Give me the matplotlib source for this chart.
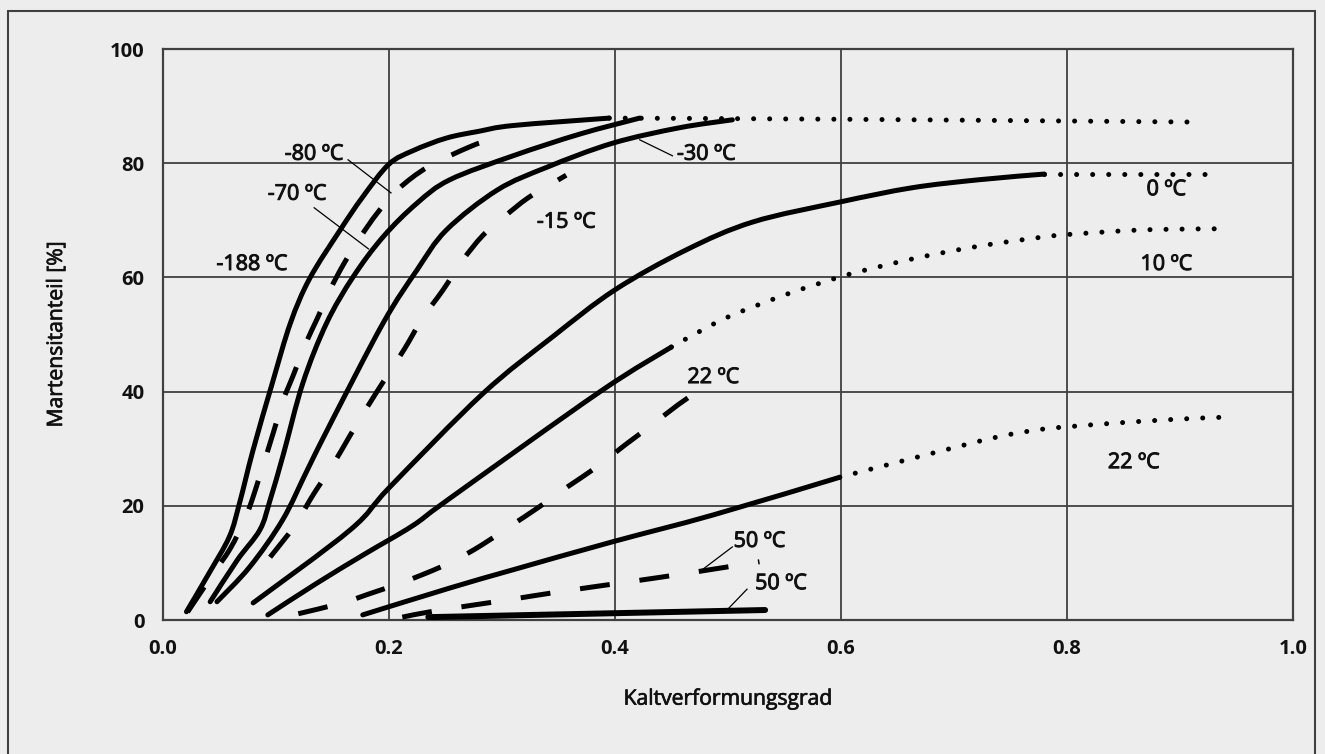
import numpy as np
import matplotlib
matplotlib.use("Agg")
import matplotlib.pyplot as plt
import matplotlib.patheffects as pe
from matplotlib.patches import Rectangle, PathPatch
from matplotlib.path import Path

plt.rcParams['font.family'] = ['Open Sans', 'DejaVu Sans']

BG = '#ededed'
GRID = '#404040'
INK = '#111111'

# Martensite fraction (%) over degree of cold work, per deformation temperature
# -188 °C (solid) and its dotted plateau
x_m188 = [0.021, 0.041, 0.059, 0.068, 0.080, 0.097, 0.113, 0.130, 0.157, 0.177, 0.200, 0.2215, 0.251, 0.280, 0.310, 0.395]
y_m188 = [1.45, 8.2, 14.6, 20.5, 29.8, 41.5, 52.0, 59.8, 68.3, 74.1, 79.8, 82.2, 84.4, 85.6, 86.6, 87.9]
x_m188_dot = [0.395, 0.60, 0.917]
y_m188_dot = [87.9, 87.7, 87.2]

# -80 °C (dashed)
x_m80 = [0.022, 0.045, 0.060, 0.073, 0.082, 0.098, 0.106, 0.116, 0.126, 0.137, 0.148, 0.160, 0.175, 0.190, 0.208, 0.235, 0.272, 0.291]
y_m80 = [1.4, 8.2, 12.6, 17.8, 22.8, 32.9, 38.2, 43.1, 48.2, 52.9, 57.8, 62.3, 67.1, 71.3, 75.4, 79.4, 82.9, 84.2]

# -70 °C (solid)
x_m70 = [0.042, 0.066, 0.086, 0.095, 0.107, 0.124, 0.145, 0.1685, 0.195, 0.225, 0.254, 0.310, 0.369, 0.422]
y_m70 = [3.2, 10.5, 15.8, 21.0, 29.2, 41.5, 52.0, 60.1, 67.1, 73.0, 77.1, 81.3, 85.1, 87.9]

# -30 °C (solid)
x_m30 = [0.048, 0.077, 0.106, 0.128, 0.150, 0.195, 0.225, 0.251, 0.296, 0.340, 0.398, 0.457, 0.504]
y_m30 = [3.2, 9.3, 17.5, 26.3, 35.0, 52.0, 61.3, 68.3, 75.3, 79.3, 83.5, 86.2, 87.6]

# -15 °C (dashed)
x_m15 = [0.095, 0.117, 0.133, 0.150, 0.166, 0.181, 0.198, 0.214, 0.230, 0.248, 0.265, 0.283, 0.302, 0.323, 0.345, 0.357]
y_m15 = [11.0, 16.6, 21.9, 27.0, 32.4, 37.3, 42.6, 47.5, 52.9, 57.8, 62.9, 67.3, 70.6, 73.9, 76.5, 77.9]

# 0 °C (solid) and its dotted plateau
x_0 = [0.080, 0.166, 0.201, 0.283, 0.345, 0.400, 0.463, 0.522, 0.599, 0.663, 0.722, 0.780]
y_0 = [3.0, 15.8, 23.3, 39.6, 49.6, 57.8, 64.8, 69.7, 73.2, 75.7, 77.1, 78.1]
x_0_dot = [0.780, 0.930]
y_0_dot = [78.1, 78.1]

# 10 °C (solid, then dotted)
x_10 = [0.093, 0.136, 0.180, 0.221, 0.254, 0.387, 0.450]
y_10 = [0.9, 6.4, 11.7, 16.5, 21.3, 40.0, 47.8]
x_10_dot = [0.450, 0.484, 0.504, 0.531, 0.557, 0.585, 0.612, 0.667, 0.723, 0.780, 0.807, 0.864, 0.920, 0.943]
y_10_dot = [47.8, 51.5, 53.4, 55.5, 57.4, 59.2, 60.8, 63.4, 65.5, 67.1, 67.6, 68.3, 68.5, 68.5]

# 22 °C (dashed)
x_22d = [0.120, 0.159, 0.183, 0.208, 0.233, 0.257, 0.282, 0.308, 0.333, 0.358, 0.384, 0.408, 0.433, 0.456, 0.470]
y_22d = [1.1, 3.0, 4.6, 6.3, 8.2, 10.3, 13.1, 16.5, 19.8, 23.3, 26.8, 30.5, 34.2, 37.7, 39.6]

# 22 °C (solid, then dotted)
x_22 = [0.177, 0.254, 0.310, 0.398, 0.487, 0.599]
y_22 = [0.9, 5.6, 8.8, 13.7, 18.4, 25.0]
x_22_dot = [0.599, 0.667, 0.735, 0.774, 0.801, 0.858, 0.911, 0.937]
y_22_dot = [25.0, 28.5, 31.9, 33.3, 33.85, 34.7, 35.3, 35.5]

# 50 °C (dashed)
x_50d = [0.212, 0.241, 0.298, 0.356, 0.413, 0.471, 0.528]
y_50d = [0.5, 1.6, 3.3, 5.1, 6.7, 8.4, 10.2]

# 50 °C (solid)
x_50 = [0.235, 0.533]
y_50 = [0.5, 1.75]

x_ticks = [0.0, 0.2, 0.4, 0.6, 0.8, 1.0]
x_ticklabels = ['0.0', '0.2', '0.4', '0.6', '0.8', '1.0']
y_ticks = [0, 20, 40, 60, 80, 100]
y_ticklabels = ['0', '20', '40', '60', '80', '100']

# curve labels: text, x, baseline y
labels = [
    ('-188 ºC', 0.079, 61.3),
    ('-80 ºC', 0.134, 80.6),
    ('-70 ºC', 0.119, 73.6),
    ('-30 ºC', 0.481, 80.6),
    ('-15 ºC', 0.357, 68.7),
    ('0 ºC', 0.888, 74.4),
    ('10 ºC', 0.888, 61.3),
    ('22 ºC', 0.487, 41.5),
    ('22 ºC', 0.859, 26.6),
    ('50 ºC', 0.528, 12.8),
    ('50 ºC', 0.547, 5.4),
]
# leader lines: (x0, y0, x1, y1)
leaders = [
    (0.164, 80.6, 0.202, 74.8),
    (0.134, 72.2, 0.182, 65.0),
    (0.422, 84.1, 0.451, 81.3),
    (0.504, 12.8, 0.478, 8.9),
    (0.517, 5.4, 0.500, 1.9),
]


def smooth_path(xs, ys):
    """Smoothed (Catmull-Rom style Bezier) path through the given points."""
    pts = np.column_stack([xs, ys]).astype(float)
    n = len(pts)
    if n == 2:
        return Path(pts, [Path.MOVETO, Path.LINETO])
    verts = [pts[0]]
    codes = [Path.MOVETO]
    for i in range(n - 1):
        p0 = pts[max(i - 1, 0)]
        p1 = pts[i]
        p2 = pts[i + 1]
        p3 = pts[min(i + 2, n - 1)]
        verts += [p1 + (p2 - p0) / 6.0, p2 - (p3 - p1) / 6.0, p2]
        codes += [Path.CURVE4] * 3
    return Path(verts, codes)


LW = 3.6


def draw(ax, xs, ys, style, lw=LW):
    patch = PathPatch(smooth_path(xs, ys), fill=False, edgecolor='black', lw=lw, zorder=3)
    if style == 'solid':
        patch.set_capstyle('round')
        patch.set_joinstyle('round')
    elif style == 'dashed':
        patch.set_linestyle((0, (6.0, 6.0)))
        patch.set_capstyle('butt')
    elif style == 'dotted':
        patch.set_linestyle((0, (0.01, 3.2)))
        patch.set_capstyle('round')
    ax.add_patch(patch)


fig = plt.figure(figsize=(13.25, 7.54), dpi=100, facecolor=BG)
ax = fig.add_axes([0.1228, 0.1777, 0.8530, 0.7573])
ax.set_facecolor(BG)

draw(ax, x_m188, y_m188, 'solid')
draw(ax, x_m188_dot, y_m188_dot, 'dotted')
draw(ax, x_m80, y_m80, 'dashed')
draw(ax, x_m70, y_m70, 'solid')
draw(ax, x_m30, y_m30, 'solid')
draw(ax, x_m15, y_m15, 'dashed')
draw(ax, x_0, y_0, 'solid')
draw(ax, x_0_dot, y_0_dot, 'dotted')
draw(ax, x_10, y_10, 'solid')
draw(ax, x_10_dot, y_10_dot, 'dotted')
draw(ax, x_22d, y_22d, 'dashed')
draw(ax, x_22, y_22, 'solid')
draw(ax, x_22_dot, y_22_dot, 'dotted')
draw(ax, x_50d, y_50d, 'dashed')
draw(ax, x_50, y_50, 'solid', lw=4.3)

for x0, y0, x1, y1 in leaders:
    ax.plot([x0, x1], [y0, y1], color='black', lw=0.9, zorder=4)

label_fx = [pe.withStroke(linewidth=0.7, foreground=INK)]
for txt, x, y in labels:
    ax.text(x, y, txt, ha='center', va='baseline', fontsize=15.5,
            color=INK, zorder=5, path_effects=label_fx)

ax.set_xlim(0, 1)
ax.set_ylim(0, 100)
ax.set_xticks(x_ticks)
ax.set_xticklabels(x_ticklabels)
ax.set_yticks(y_ticks)
ax.set_yticklabels(y_ticklabels)
ax.tick_params(length=0, labelsize=14.5, colors=INK, pad=14)
ax.tick_params(axis='y', pad=13)
for lab in ax.get_xticklabels() + ax.get_yticklabels():
    lab.set_fontweight('bold')
ax.grid(True, color=GRID, lw=1.3, zorder=1)
ax.set_axisbelow(True)
for sp in ax.spines.values():
    sp.set_color(GRID)
    sp.set_linewidth(1.6)

axis_fx = [pe.withStroke(linewidth=0.5, foreground=INK)]
ax.set_xlabel('Kaltverformungsgrad', fontsize=15.2, color=INK, labelpad=21,
              path_effects=axis_fx)
ax.set_ylabel('Martensitanteil [%]', fontsize=15.2, color=INK, labelpad=31,
              path_effects=axis_fx)

# outer frame
fig.add_artist(Rectangle((8 / 1325, -0.05), (1315 - 8) / 1325, 1 - 11 / 754 + 0.05,
                         transform=fig.transFigure, fill=False, edgecolor='#404040', lw=1.5))

fig.savefig('out.png', dpi=100, facecolor=BG)
